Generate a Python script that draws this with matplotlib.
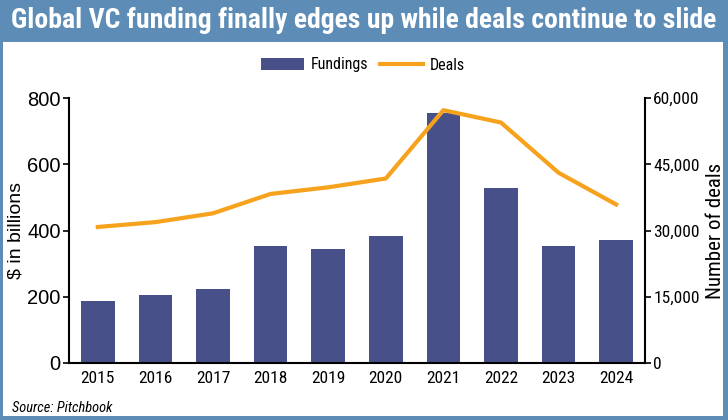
import matplotlib
matplotlib.use("Agg")
import matplotlib.pyplot as plt
from matplotlib import font_manager as fm
from matplotlib.patches import Rectangle, Patch
from matplotlib.lines import Line2D
from matplotlib.ticker import FuncFormatter

years = ["2015", "2016", "2017", "2018", "2019", "2020", "2021", "2022", "2023", "2024"]
fundings = [186, 205, 224, 353, 344, 383, 755, 529, 354, 372]
deals = [30800, 31900, 33900, 38300, 39800, 41800, 57300, 54500, 43100, 35900]

names = {f.name for f in fm.fontManager.ttflist}
narrow = next((n for n in ["Liberation Sans Narrow", "Roboto Condensed", "PT Sans Narrow",
                           "Archivo Narrow", "DejaVu Sans"] if n in names), "DejaVu Sans")
regular = "Liberation Sans"

BAND = "#5d8db6"
BAR = "#475089"
ORANGE = "#f6a21c"

fig = plt.figure(figsize=(7.28, 4.2), dpi=100)
fig.patch.set_facecolor(BAND)
fig.add_artist(Rectangle((3/728, 4/420), (723-3)/728, (420-42-4)/420,
                         transform=fig.transFigure, facecolor="white", edgecolor="none", zorder=0))
fig.text(0.5, 1 - 20/420, "Global VC funding finally edges up while deals continue to slide",
         ha="center", va="center", color="white", fontsize=20, fontweight="bold", family=narrow)

ax = fig.add_axes([69/728, 57.3/420, (645-69)/728, (362.7-98.3)/420])
ax.set_facecolor("none")
x = list(range(len(years)))
ax.bar(x, fundings, width=0.58, color=BAR, zorder=2)
ax.set_xlim(-0.5, 9.5)
ax.set_ylim(0, 800)
ax.set_yticks([0, 200, 400, 600, 800])
ax.set_xticks(x)
ax.set_xticklabels(years, family=narrow, fontsize=12.5)
ax.tick_params(axis="x", length=0, pad=6)
ax.tick_params(axis="y", direction="out", length=4, width=1.2, labelsize=14.5, pad=2)
for lab in ax.get_yticklabels():
    lab.set_family(regular)
ax.set_ylabel("$ in billions", family=regular, fontsize=14)
ax.yaxis.set_label_coords((25 - 69) / 576, 0.5)
for s in ["top", "right"]:
    ax.spines[s].set_visible(False)
for s in ["left", "bottom"]:
    ax.spines[s].set_linewidth(1.5)

ax2 = ax.twinx()
ax2.plot(x, deals, color=ORANGE, lw=3, zorder=3)
ax2.set_ylim(0, 60000)
ax2.set_yticks([0, 15000, 30000, 45000, 60000])
ax2.yaxis.set_major_formatter(FuncFormatter(lambda v, p: f"{int(v):,}"))
ax2.tick_params(axis="y", direction="out", length=4, width=1.2, labelsize=12.5, pad=2)
for lab in ax2.get_yticklabels():
    lab.set_family(narrow)
ax2.set_ylabel("Number of deals", family=narrow, fontsize=15)
ax2.yaxis.set_label_coords((706 - 645) / 576 + 1, 0.5)
for s in ["top", "left", "bottom"]:
    ax2.spines[s].set_visible(False)
ax2.spines["right"].set_linewidth(1.5)

handles = [Patch(facecolor=BAR, edgecolor="none"), Line2D([0], [0], color=ORANGE, lw=3)]
fig.legend(handles, ["Fundings", "Deals"], loc="center", bbox_to_anchor=(363/728, 1 - 65/420),
           ncol=2, frameon=False, prop={"family": narrow, "size": 11.5},
           handlelength=2.7, handletextpad=0.45, columnspacing=0.7)

fig.text(12/728, 1 - 408/420, "Source: Pitchbook", ha="left", va="center", fontsize=10.4,
         style="italic", family=narrow)

fig.savefig("out.png", dpi=100, facecolor=fig.get_facecolor())
